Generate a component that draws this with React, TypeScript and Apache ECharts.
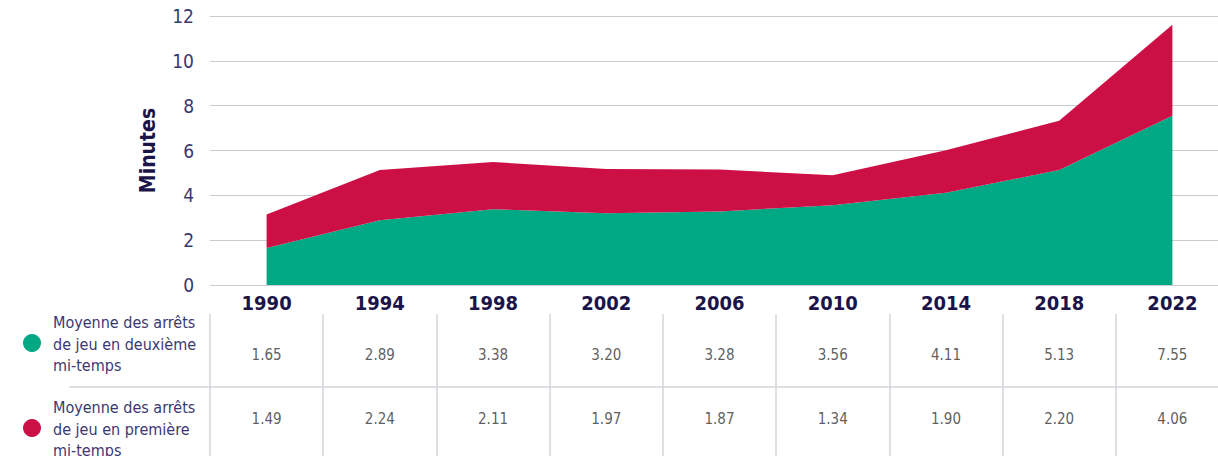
import React, { useEffect, useRef } from "react";
import * as echarts from "echarts";

const years = ["1990", "1994", "1998", "2002", "2006", "2010", "2014", "2018", "2022"];
const secondHalf = [1.65, 2.89, 3.38, 3.2, 3.28, 3.56, 4.11, 5.13, 7.55];
const firstHalf = [1.49, 2.24, 2.11, 1.97, 1.87, 1.34, 1.9, 2.2, 4.06];
const rowLabels = [
  "Moyenne des arrêts\nde jeu en deuxième\nmi-temps",
  "Moyenne des arrêts\nde jeu en première\nmi-temps",
];
const rowKeys = ["r1", "r2"];
const GREEN = "#00a884";
const RED = "#cc1046";
const NARROW = "'Liberation Sans Narrow', 'DejaVu Sans Condensed', 'Roboto', sans-serif";

export default function App() {
  const ref = useRef<HTMLDivElement>(null);
  useEffect(() => {
    const chart = echarts.init(ref.current!, null, { renderer: "svg" });
    const tableData = (vals: number[], row: number) =>
      vals.map((v, i) => ({ value: [i, row], label: { formatter: v.toFixed(2) } }));
    chart.setOption({
      animation: false,
      grid: [
        { left: 210, right: 0, top: 16, height: 269 },
        { left: 210, right: 0, top: 323, height: 128 },
        { left: 210, right: 0, top: 314, height: 142 },
      ],
      xAxis: [
        {
          type: "category",
          gridIndex: 0,
          data: years,
          boundaryGap: true,
          axisLine: { show: false },
          axisTick: { show: false },
          axisLabel: {
            margin: 8,
            color: "#1b1449",
            fontSize: 20,
            fontWeight: "bold",
            fontFamily: NARROW,
          },
        },
        {
          type: "category",
          gridIndex: 1,
          data: years,
          show: false,
        },
        {
          type: "category",
          gridIndex: 2,
          data: years,
          axisLine: { show: false },
          axisTick: { show: false },
          axisLabel: { show: false },
          splitLine: { show: true, lineStyle: { color: "#d3d6db", width: 1.5 } },
        },
      ],
      yAxis: [
        {
          type: "value",
          gridIndex: 0,
          min: 0,
          max: 12,
          interval: 2,
          name: "Minutes",
          nameLocation: "middle",
          nameGap: 52,
          nameTextStyle: {
            color: "#1b1449",
            fontSize: 21,
            fontWeight: "bold",
            fontFamily: NARROW,
          },
          axisLine: { show: false },
          axisTick: { show: false },
          axisLabel: {
            margin: 16,
            color: "#3b3870",
            fontSize: 19,
            fontFamily: NARROW,
          },
          splitLine: { lineStyle: { color: "#c9cdd2", width: 1.2 } },
        },
        {
          type: "category",
          gridIndex: 1,
          data: rowKeys,
          inverse: true,
          show: false,
        },
        {
          type: "value",
          gridIndex: 2,
          show: false,
        },
      ],
      series: [
        {
          name: "deuxième",
          type: "line",
          stack: "total",
          xAxisIndex: 0,
          yAxisIndex: 0,
          data: secondHalf,
          showSymbol: false,
          lineStyle: { width: 0 },
          areaStyle: { color: GREEN, opacity: 1 },
          itemStyle: { color: GREEN },
        },
        {
          name: "première",
          type: "line",
          stack: "total",
          xAxisIndex: 0,
          yAxisIndex: 0,
          data: firstHalf,
          showSymbol: false,
          lineStyle: { width: 0 },
          areaStyle: { color: RED, opacity: 1 },
          itemStyle: { color: RED },
        },
        {
          type: "scatter",
          xAxisIndex: 1,
          yAxisIndex: 1,
          symbolSize: 0,
          data: [...tableData(secondHalf, 0), ...tableData(firstHalf, 1)],
          label: {
            show: true,
            position: "inside",
            color: "#333333",
            fontSize: 15,
            fontFamily: NARROW,
          },
        },
      ],
      graphic: [
        {
          type: "line",
          shape: { x1: 69, y1: 387, x2: 1229, y2: 387 },
          style: { stroke: "#d3d6db", lineWidth: 1.5 },
        },
        { type: "circle", shape: { cx: 32, cy: 343, r: 9 }, style: { fill: GREEN } },
        { type: "circle", shape: { cx: 32, cy: 428, r: 9 }, style: { fill: RED } },
        {
          type: "text",
          x: 53,
          y: 312,
          style: {
            text: rowLabels[0],
            fill: "#3b3870",
            fontSize: 16,
            lineHeight: 21.5,
            fontFamily: NARROW,
          },
        },
        {
          type: "text",
          x: 53,
          y: 397,
          style: {
            text: rowLabels[1],
            fill: "#3b3870",
            fontSize: 16,
            lineHeight: 21.5,
            fontFamily: NARROW,
          },
        },
      ],
    });
    return () => chart.dispose();
  }, []);
  return (
    <div
      style={{
        position: "absolute",
        left: 0,
        top: 0,
        width: 1218,
        height: 456,
        overflow: "hidden",
        background: "#fff",
      }}
    >
      <div ref={ref} style={{ width: 1229, height: 456 }} />
    </div>
  );
}
